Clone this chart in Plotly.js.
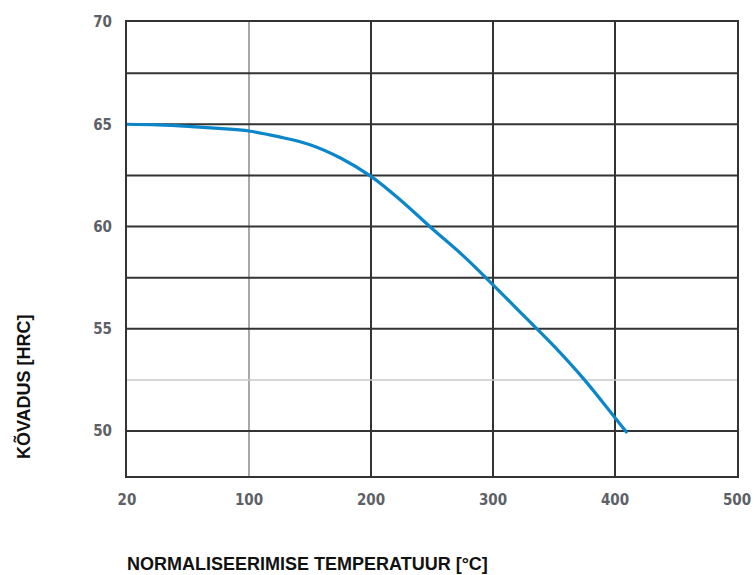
<!DOCTYPE html>
<html>
<head>
<meta charset="utf-8">
<script src="https://cdn.plot.ly/plotly-3.0.1.min.js"></script>
<style>html,body{margin:0;padding:0;background:#fff;}#chart{width:756px;height:575px;}</style>
</head>
<body>
<div id="chart"></div>
<script>
// Temperature (°C) and hardness (HRC)
var temperature = [20, 40, 60, 80, 100, 125, 150, 175, 200, 225, 250, 275, 300, 325, 350, 375, 400, 410];
var hardness    = [65.0, 64.97, 64.9, 64.8, 64.67, 64.38, 64.0, 63.35, 62.45, 61.25, 59.9, 58.6, 57.15, 55.65, 54.15, 52.5, 50.65, 49.9];

var xTickLabels = ["20", "100", "200", "300", "400", "500"];
var xTickTemps  = [20, 100, 200, 300, 400, 500];
var yTickVals   = [50, 55, 60, 65, 70];
var darkGridX   = [200, 300, 400];
var lightGridX  = [100];
var darkGridY   = [50, 55, 57.5, 60, 62.5, 65, 67.5];
var lightGridY  = [52.5];

// The axis places 20..100 over the same width as each 100 °C step
function axisPos(t) { return t <= 100 ? (t - 20) * 100 / 80 : t; }

var shapes = [];
function vline(t, color, w) {
  shapes.push({type: 'line', xref: 'x', yref: 'paper', x0: axisPos(t), x1: axisPos(t), y0: 0, y1: 1,
               line: {color: color, width: w}, layer: 'below'});
}
function hline(v, color, w) {
  shapes.push({type: 'line', xref: 'paper', yref: 'y', x0: 0, x1: 1, y0: v, y1: v,
               line: {color: color, width: w}, layer: 'below'});
}
darkGridX.forEach(function (t) { vline(t, '#333333', 2); });
lightGridX.forEach(function (t) { vline(t, '#a8a8a8', 2); });
darkGridY.forEach(function (v) { hline(v, '#333333', 2); });
lightGridY.forEach(function (v) { hline(v, '#c8c8c8', 1.5); });

var trace = {
  x: temperature.map(axisPos),
  y: hardness,
  type: 'scatter',
  mode: 'lines',
  line: {color: '#0b87c9', width: 3.2, shape: 'spline', smoothing: 1},
  hoverinfo: 'skip'
};

var tickFont = {family: 'DejaVu Sans Condensed', size: 15, color: '#5d6166', weight: 'bold'};
var titleFont = {family: 'Liberation Sans, Arial, sans-serif', size: 18, color: '#111111', weight: 'bold'};

var layout = {
  width: 756, height: 575,
  margin: {l: 127, r: 19, t: 22, b: 99},
  paper_bgcolor: '#ffffff', plot_bgcolor: '#ffffff',
  showlegend: false,
  xaxis: {
    range: [0, 500],
    tickvals: xTickTemps.map(axisPos),
    ticktext: xTickLabels,
    showgrid: false, zeroline: false,
    showline: true, mirror: true, linecolor: '#333333', linewidth: 2,
    ticks: 'outside', ticklen: 9, tickcolor: 'rgba(0,0,0,0)',
    tickfont: tickFont
  },
  yaxis: {
    range: [47.8, 70],
    tickvals: yTickVals,
    showgrid: false, zeroline: false,
    showline: true, mirror: true, linecolor: '#333333', linewidth: 2,
    ticks: 'outside', ticklen: 10, tickcolor: 'rgba(0,0,0,0)',
    tickfont: tickFont
  },
  shapes: shapes,
  annotations: [
    {text: 'NORMALISEERIMISE TEMPERATUUR [°C]', xref: 'paper', yref: 'paper',
     x: 0.296, y: -0.1938, xanchor: 'center', yanchor: 'middle', showarrow: false, font: titleFont},
    {text: 'KÕVADUS [HRC]', xref: 'paper', yref: 'paper', textangle: -90,
     x: -0.1705, y: 0.198, xanchor: 'center', yanchor: 'middle', showarrow: false, font: titleFont}
  ]
};

Plotly.newPlot('chart', [trace], layout, {displayModeBar: false, staticPlot: true});
</script>
</body>
</html>
